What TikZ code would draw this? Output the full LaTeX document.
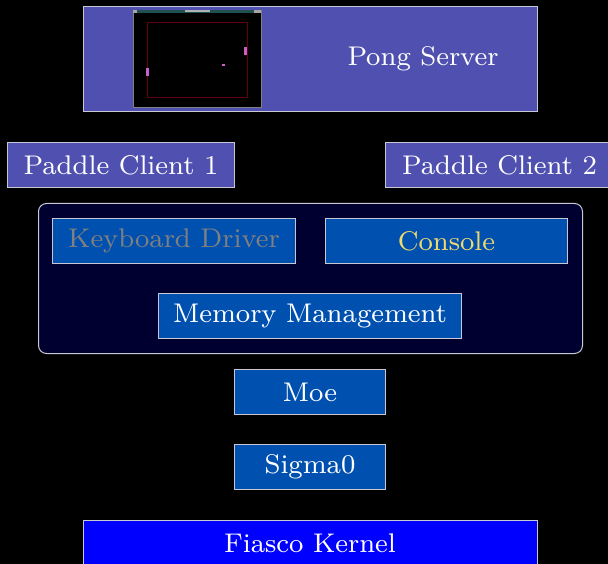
\documentclass[tikz,border=0pt]{standalone}
\usepackage{fontspec}
\newfontfamily\labelfont{lmroman8-regular.otf}
\usetikzlibrary{positioning}
\definecolor{pongfill}{RGB}{80,80,176}
\definecolor{blockfill}{RGB}{0,80,176}
\definecolor{contfill}{RGB}{0,0,48}
\definecolor{kernfill}{RGB}{0,0,255}
\definecolor{edge}{RGB}{200,200,210}
\definecolor{kbtext}{RGB}{128,128,128}
\definecolor{contxt}{RGB}{240,216,112}
\definecolor{titlebar}{RGB}{32,80,80}
\definecolor{field}{RGB}{96,0,16}
\definecolor{paddle}{RGB}{200,96,200}
\tikzset{
  lbl/.style={font=\labelfont\fontsize{27}{30}\selectfont, text=white},
  box/.style={lbl, draw=edge, line width=1pt, minimum height=45pt, inner sep=0pt},
  appbox/.style={box, fill=pongfill},
  sysbox/.style={box, fill=blockfill},
}
\begin{document}
\begin{tikzpicture}[x=1pt,y=-1pt]
\fill[black] (0,0) rectangle (608,564);
\useasboundingbox (0,0) rectangle (608,564);
% Pong server
\node[appbox, minimum width=454pt, minimum height=105pt, anchor=north west] (pong) at (83,6) {};
\node[lbl] (pongtxt) at (423,59) {Pong Server};
% screenshot
\draw[fill=black, draw=gray, line width=0.8pt] (133,10) rectangle (261,107);
\fill[titlebar] (133,10) rectangle (261,13);
\fill[gray!70] (133,10) rectangle (137,13);
\fill[gray!70] (254,10) rectangle (261,13);
\fill[gray!60] (185,10.5) rectangle (210,12.5);
\draw[field, line width=0.8pt] (147,22) rectangle (247,97);
\fill[paddle] (145.5,68) rectangle (148.5,76);
\fill[paddle] (244,47) rectangle (247,55);
\fill[paddle] (222,64) rectangle (225,66);
% clients
\node[appbox, minimum width=227pt, anchor=north west] (pc1) at (7,142) {Paddle Client 1};
\node[appbox, minimum width=228pt, anchor=north west] (pc2) at (385,142) {Paddle Client 2};
% container
\node[draw=edge, line width=1pt, fill=contfill, rounded corners=8pt, minimum width=544pt, minimum height=150pt, anchor=north west, inner sep=0pt] (cont) at (38,203) {};
\node[sysbox, minimum width=243pt, anchor=north west, text=kbtext] (kbd) at (52,218) {Keyboard Driver};
\node[sysbox, minimum width=242pt, anchor=north west, text=contxt] (con) at (325,218) {Console};
\node[sysbox, minimum width=303pt, anchor=north west] (mem) at (158,293) {Memory Management};
% lower stack
\node[sysbox, minimum width=151pt, anchor=north west] (moe) at (234,369) {Moe};
\node[sysbox, minimum width=151pt, anchor=north west] (sig) at (234,444) {Sigma0};
\node[box, fill=kernfill, minimum width=454pt, minimum height=50pt, anchor=north west] (fiasco) at (83,520) {};
\node[lbl] (fiascotxt) at (310,543) {Fiasco Kernel};
\end{tikzpicture}
\end{document}
